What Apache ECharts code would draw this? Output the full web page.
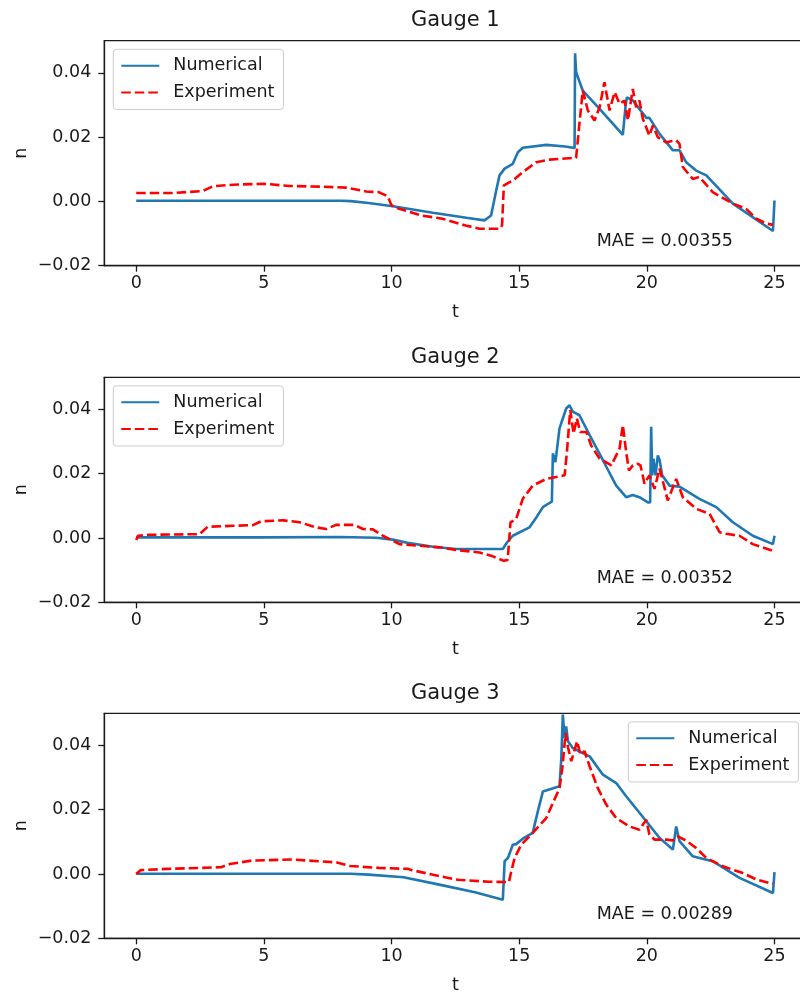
<!DOCTYPE html>
<html>
<head>
<meta charset="utf-8">
<script src="https://cdn.jsdelivr.net/npm/echarts@6/dist/echarts.min.js"></script>
<style>html,body{margin:0;padding:0;background:#fff}#c{width:800px;height:992px}</style>
</head>
<body>
<div id="c"></div>
<script>
// ---------- data (t, n) ----------
const gaugeTitles = ['Gauge 1', 'Gauge 2', 'Gauge 3'];
const maeLabels = ['MAE = 0.00355', 'MAE = 0.00352', 'MAE = 0.00289'];
const seriesNames = ['Numerical', 'Experiment'];
const xTicks = [0, 5, 10, 15, 20, 25];
const yTicks = [-0.02, 0, 0.02, 0.04];

const gauge1Numerical = [[0,0.0002],[4,0.0002],[8,0.0002],[8.4,0.0001],[9.1,-0.0005],[10.05,-0.0015],[11.62,-0.0035],[12.93,-0.0051],[13.64,-0.0059],[13.9,-0.0044],[14.1,0.0034],[14.23,0.0081],[14.43,0.0102],[14.75,0.0117],[14.95,0.0153],[15.14,0.0167],[16.06,0.0176],[16.8,0.0171],[17.17,0.0166],[17.19,0.0461],[17.23,0.0402],[17.49,0.0345],[18.15,0.0288],[19.06,0.0207],[19.17,0.0299],[19.22,0.0324],[19.45,0.0314],[19.98,0.026],[20.1,0.026],[20.5,0.021],[21.02,0.0159],[21.28,0.0159],[21.54,0.0122],[21.93,0.0096],[22.33,0.0081],[23.37,-0.0007],[24.94,-0.0092],[25.0,0.0003]];
const gauge1Experiment = [[0,0.0026],[1.4,0.0026],[2.6,0.0032],[3.0,0.0047],[3.8,0.0052],[5.0,0.0055],[6.0,0.0048],[7.2,0.0046],[8.2,0.0043],[9.0,0.0031],[9.5,0.0029],[9.85,0.0016],[10.0,-0.0012],[10.3,-0.0023],[11.2,-0.0044],[12.0,-0.0054],[12.9,-0.0075],[13.45,-0.0085],[14.25,-0.0085],[14.33,-0.0074],[14.4,0.005],[14.75,0.0065],[15.14,0.0091],[15.67,0.0122],[16.2,0.013],[17.23,0.0136],[17.36,0.0242],[17.49,0.0345],[17.69,0.0283],[17.95,0.0252],[18.15,0.0293],[18.34,0.0371],[18.54,0.0283],[18.74,0.034],[18.93,0.0304],[19.13,0.0314],[19.26,0.0252],[19.45,0.035],[19.58,0.0293],[19.71,0.0314],[19.84,0.0258],[20.1,0.0205],[20.24,0.0236],[20.43,0.02],[20.76,0.0184],[21.15,0.019],[21.28,0.0179],[21.41,0.0107],[21.8,0.007],[22.06,0.0076],[22.58,0.0029],[23.37,-0.0007],[23.89,-0.0023],[24.29,-0.0054],[24.68,-0.0069],[24.94,-0.0073]];

const gauge2Numerical = [[0,0.0002],[5,0.0002],[8,0.0003],[9.4,0.0001],[10.05,-0.0005],[10.7,-0.0016],[11.62,-0.0027],[12.53,-0.0034],[14.36,-0.0034],[14.52,-0.0014],[14.75,0.0007],[15.4,0.0033],[15.67,0.0064],[15.93,0.0096],[16.1,0.0105],[16.28,0.0113],[16.32,0.0263],[16.38,0.0268],[16.42,0.0236],[16.58,0.0341],[16.84,0.0403],[16.97,0.0413],[17.1,0.0393],[17.36,0.0382],[17.76,0.032],[18.28,0.0242],[18.8,0.0163],[19.19,0.0127],[19.45,0.0134],[19.71,0.0127],[20.04,0.0111],[20.13,0.0111],[20.17,0.0346],[20.21,0.0195],[20.26,0.0247],[20.34,0.0195],[20.43,0.0257],[20.5,0.0243],[20.6,0.0195],[20.89,0.0163],[21.28,0.016],[22.06,0.0122],[22.72,0.0096],[23.37,0.0049],[24.15,0.0007],[24.94,-0.0019],[25,0.0007]];
const gauge2Experiment = [[0,-0.0006],[0.07,0.0007],[0.52,0.001],[2.48,0.0012],[2.8,0.0035],[3.78,0.0038],[4.57,0.004],[4.89,0.0052],[5.76,0.0055],[6.4,0.0049],[7.05,0.0033],[7.44,0.0028],[7.83,0.0041],[8.55,0.0041],[8.88,0.0028],[9.27,0.0027],[9.66,0.0007],[10.31,-0.0019],[11.1,-0.0024],[11.88,-0.0029],[12.53,-0.0037],[13.45,-0.0045],[13.97,-0.0057],[14.4,-0.0071],[14.55,-0.0068],[14.66,0.0049],[14.88,0.0059],[15.14,0.0122],[15.53,0.0163],[16.06,0.0184],[16.78,0.0195],[16.87,0.0268],[17.0,0.0398],[17.13,0.0325],[17.26,0.0372],[17.39,0.033],[17.63,0.033],[17.82,0.0288],[18.15,0.0247],[18.61,0.0226],[18.93,0.0278],[19.06,0.0351],[19.19,0.0268],[19.3,0.021],[19.45,0.0226],[19.65,0.0231],[19.75,0.0226],[19.91,0.0169],[20.1,0.0195],[20.3,0.0153],[20.5,0.0216],[20.82,0.0117],[21.15,0.0184],[21.41,0.0127],[21.93,0.0091],[22.46,0.0075],[22.85,0.0018],[23.11,0.0013],[23.63,0.0007],[24.15,-0.0019],[24.94,-0.004]];

const gauge3Numerical = [[0,0.0001],[4,0.0001],[8.4,0.0001],[9.1,-0.0002],[10.47,-0.001],[11.87,-0.0033],[13.27,-0.0057],[14.36,-0.008],[14.43,0.004],[14.56,0.005],[14.75,0.0091],[14.88,0.0093],[15.14,0.011],[15.53,0.0128],[15.73,0.0195],[15.93,0.0257],[16.58,0.0273],[16.65,0.0361],[16.71,0.0496],[16.78,0.0423],[16.84,0.0459],[16.91,0.0413],[17.1,0.0392],[17.49,0.0376],[17.76,0.0366],[18.28,0.0309],[18.8,0.0283],[19.19,0.0242],[19.98,0.0164],[20.5,0.0112],[21.02,0.0076],[21.15,0.0148],[21.28,0.0102],[21.8,0.0055],[22.06,0.005],[22.58,0.004],[23.63,-0.0012],[24.94,-0.0059],[25,0.0006]];
const gauge3Experiment = [[0,0],[0.17,0.0012],[1.22,0.0016],[3.32,0.0021],[3.67,0.0031],[4.54,0.0042],[6.11,0.0045],[7.86,0.0036],[8.38,0.0025],[9.5,0.0019],[10.65,0.0016],[10.8,0.0012],[11.9,-0.0007],[12.6,-0.0018],[13.8,-0.0024],[14.6,-0.0025],[14.69,0.0008],[14.82,0.005],[15.08,0.0091],[15.53,0.0128],[16.06,0.0174],[16.32,0.0221],[16.58,0.0267],[16.69,0.033],[16.82,0.0439],[16.92,0.0392],[17.04,0.0351],[17.27,0.0413],[17.4,0.0371],[17.56,0.0382],[17.76,0.0335],[18.08,0.0267],[18.41,0.0216],[18.8,0.0174],[19.32,0.0148],[19.71,0.0138],[19.98,0.0169],[20.1,0.0123],[20.3,0.0107],[20.76,0.0107],[21.02,0.0104],[21.21,0.0117],[21.54,0.0104],[21.93,0.0081],[22.33,0.005],[22.98,0.0024],[23.76,0.0003],[24.29,-0.0017],[24.94,-0.0031]];

const numericalData = [gauge1Numerical, gauge2Numerical, gauge3Numerical];
const experimentData = [gauge1Experiment, gauge2Experiment, gauge3Experiment];

// ---------- layout / style ----------
const FONT = 'DejaVu Sans';
const FS = 17.5;
const INK = '#1a1a1a';
const panelTops = [40.7, 377.3, 713.3];
const gridLeft = 104.3, gridWidth = 702.1, gridHeight = 225;
const legendLefts = [113.3, 113.3, 628.3];

function fmtY(v) {
  const s = Math.abs(v).toFixed(2);
  return (v < -1e-9 ? '\u2212' : '') + s;
}

const grids = [], xAxes = [], yAxes = [], series = [], legends = [], graphics = [];
for (let i = 0; i < 3; i++) {
  grids.push({
    left: gridLeft, top: panelTops[i], width: gridWidth, height: gridHeight,
    show: true, borderColor: INK, borderWidth: 1.3, backgroundColor: 'transparent',
    containLabel: false, outerBoundsMode: 'none'
  });
  xAxes.push({
    gridIndex: i, type: 'value', min: -1.25, max: 26.25,
    name: 't', nameLocation: 'middle', nameGap: 38,
    nameTextStyle: { fontFamily: FONT, fontSize: FS, color: INK },
    axisLine: { show: true, onZero: false, lineStyle: { color: INK, width: 1.3 } },
    axisTick: { show: true, length: 6, inside: false, customValues: xTicks, lineStyle: { color: INK, width: 1.3 } },
    axisLabel: { customValues: xTicks, fontFamily: FONT, fontSize: FS, color: INK, margin: 9 },
    splitLine: { show: false }
  });
  yAxes.push({
    gridIndex: i, type: 'value', min: -0.02, max: 0.05,
    name: 'n', nameLocation: 'middle', nameGap: 74, nameRotate: 90, nameMoveOverlap: false,
    nameTextStyle: { fontFamily: FONT, fontSize: FS, color: INK },
    axisLine: { show: true, onZero: false, lineStyle: { color: INK, width: 1.3 } },
    axisTick: { show: true, length: 6, inside: false, customValues: yTicks, lineStyle: { color: INK, width: 1.3 } },
    axisLabel: { customValues: yTicks, fontFamily: FONT, fontSize: FS, color: INK, margin: 13, formatter: fmtY },
    splitLine: { show: false }
  });
  series.push({
    name: seriesNames[0], type: 'line', xAxisIndex: i, yAxisIndex: i,
    data: numericalData[i], symbol: 'none', showSymbol: false, smooth: false, clip: true,
    lineStyle: { color: '#1f77b4', width: 2.6 }, itemStyle: { color: '#1f77b4' }, z: 2
  });
  series.push({
    name: seriesNames[1], type: 'line', xAxisIndex: i, yAxisIndex: i,
    data: experimentData[i], symbol: 'none', showSymbol: false, smooth: false, clip: true,
    lineStyle: { color: '#ff0000', width: 2.6, type: [9.5, 4] }, itemStyle: { color: '#ff0000' }, z: 3
  });
  legends.push({
    left: legendLefts[i], top: panelTops[i] + 8.6, orient: 'vertical',
    data: seriesNames, selectedMode: false,
    itemWidth: 38, itemHeight: 14, itemGap: 5.7,
    padding: [5.9, 9, 6.5, 7],
    itemStyle: { opacity: 0, borderWidth: 0 },
    backgroundColor: 'rgba(255,255,255,0.8)', borderColor: '#cccccc', borderWidth: 1, borderRadius: 3,
    textStyle: { fontFamily: FONT, fontSize: FS, color: INK, lineHeight: 21, padding: [0, 0, 0, 9] }
  });
  graphics.push({
    type: 'text', x: gridLeft + gridWidth / 2, y: panelTops[i] - 20,
    style: { text: gaugeTitles[i], font: '21px "DejaVu Sans"', fill: INK, textAlign: 'center', textVerticalAlign: 'middle' }
  });
  graphics.push({
    type: 'text', x: 596.7, y: panelTops[i] + 201,
    style: { text: maeLabels[i], font: FS + 'px "DejaVu Sans"', fill: INK, textAlign: 'left', textVerticalAlign: 'middle' }
  });
}

const chart = echarts.init(document.getElementById('c'), null, { renderer: 'canvas' });
chart.setOption({
  animation: false,
  backgroundColor: '#ffffff',
  grid: grids, xAxis: xAxes, yAxis: yAxes, series: series, legend: legends, graphic: graphics
});
</script>
</body>
</html>
